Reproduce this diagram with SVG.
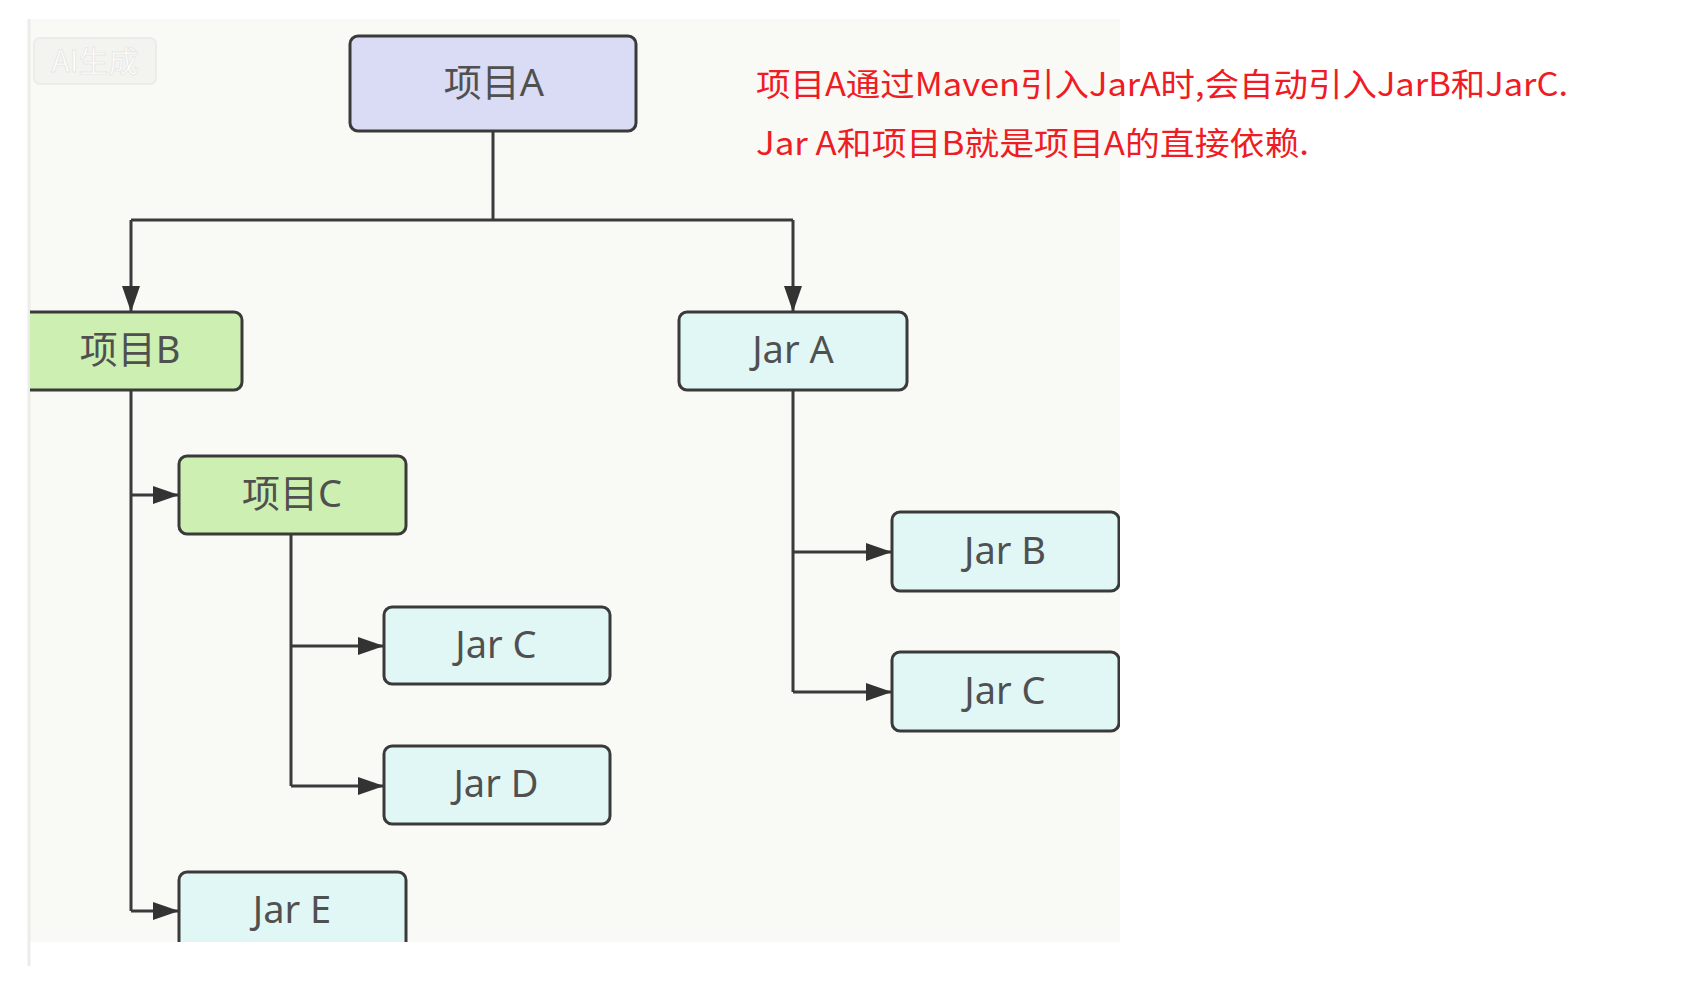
<svg xmlns="http://www.w3.org/2000/svg" width="1692" height="994" viewBox="0 0 1692 994">
<defs>
<style>
.box{stroke:#3a3a3a;stroke-width:3}
.pa{fill:#dadbf5}
.pg{fill:#cdefb2}
.jar{fill:#e0f7f6}
.lbl{font-family:"Noto Sans","Noto Sans CJK SC",sans-serif;font-size:38px;fill:#505050;text-anchor:middle}
.conn{fill:none;stroke:#3a3a3a;stroke-width:3}
.note{font-family:"Noto Sans CJK SC","Noto Sans",sans-serif;font-size:32px;fill:#ef1c24}
</style>
<marker id="arr" viewBox="0 0 26 18" refX="26" refY="9" markerWidth="26" markerHeight="18" markerUnits="userSpaceOnUse" orient="auto">
<path d="M0,0 L26,9 L0,18 Z" fill="#333"/>
</marker>
<clipPath id="panelClip"><rect x="30" y="19" width="1090" height="923"/></clipPath>
</defs>
<rect x="0" y="0" width="1692" height="994" fill="#ffffff"/>
<rect x="29" y="19" width="1091" height="923" fill="#f9f9f5"/>
<line x1="29" y1="19" x2="29" y2="966" stroke="#ececea" stroke-width="3"/>
<g id="watermark">
<rect x="34" y="38" width="122" height="46" rx="6" fill="#f3f3f0" stroke="#ececea" stroke-width="2"/>
<text x="95" y="72" font-family="Noto Sans CJK SC,sans-serif" font-size="30" fill="#ffffff" stroke="#e6e6e2" stroke-width="0.8" text-anchor="middle">AI生成</text>
</g>
<g clip-path="url(#panelClip)">
<g id="connectors">
<path class="conn" d="M493,131 V220"/>
<path class="conn" d="M131,220 H793"/>
<path class="conn" d="M131,220 V312" marker-end="url(#arr)"/>
<path class="conn" d="M793,220 V312" marker-end="url(#arr)"/>
<path class="conn" d="M131,390 V911"/>
<path class="conn" d="M131,495 H179" marker-end="url(#arr)"/>
<path class="conn" d="M131,911 H179" marker-end="url(#arr)"/>
<path class="conn" d="M291,534 V786"/>
<path class="conn" d="M291,646 H384" marker-end="url(#arr)"/>
<path class="conn" d="M291,786 H384" marker-end="url(#arr)"/>
<path class="conn" d="M793,390 V692"/>
<path class="conn" d="M793,552 H892" marker-end="url(#arr)"/>
<path class="conn" d="M793,692 H892" marker-end="url(#arr)"/>
</g>
<g id="node-projA"><rect class="box pa" x="350" y="36" width="286" height="95" rx="8"/><text class="lbl" x="494" y="96">项目A</text></g>
<g id="node-projB"><rect class="box pg" x="10" y="312" width="232" height="78" rx="8"/><text class="lbl" x="130" y="363">项目B</text></g>
<g id="node-jarA"><rect class="box jar" x="679" y="312" width="228" height="78" rx="8"/><text class="lbl" x="793" y="363">Jar A</text></g>
<g id="node-projC"><rect class="box pg" x="179" y="456" width="227" height="78" rx="8"/><text class="lbl" x="292" y="507">项目C</text></g>
<g id="node-jarC1"><rect class="box jar" x="384" y="607" width="226" height="77" rx="8"/><text class="lbl" x="496" y="658">Jar C</text></g>
<g id="node-jarD"><rect class="box jar" x="384" y="746" width="226" height="78" rx="8"/><text class="lbl" x="496" y="797">Jar D</text></g>
<g id="node-jarE"><rect class="box jar" x="179" y="872" width="227" height="90" rx="8"/><text class="lbl" x="292" y="923">Jar E</text></g>
<g id="node-jarB"><rect class="box jar" x="892" y="512" width="227" height="79" rx="8"/><text class="lbl" x="1005" y="564">Jar B</text></g>
<g id="node-jarC2"><rect class="box jar" x="892" y="652" width="227" height="79" rx="8"/><text class="lbl" x="1005" y="704">Jar C</text></g>
</g>
<g id="note">
<text class="note" x="756" y="96" textLength="812" lengthAdjust="spacingAndGlyphs">项目A通过Maven引入JarA时,会自动引入JarB和JarC.</text>
<text class="note" x="756" y="155" textLength="553" lengthAdjust="spacingAndGlyphs">Jar A和项目B就是项目A的直接依赖.</text>
</g>
</svg>
